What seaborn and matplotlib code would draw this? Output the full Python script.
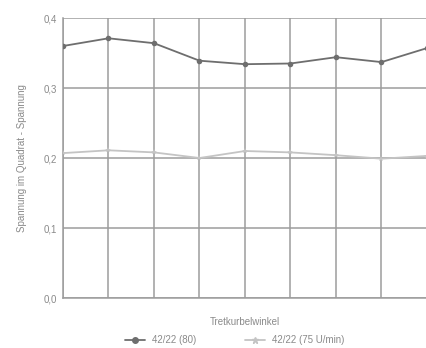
import numpy as np
import pandas as pd
import matplotlib
matplotlib.use("Agg")
import matplotlib.pyplot as plt
import seaborn as sns

# Daten
winkel = [0, 1, 2, 3, 4, 5, 6, 7, 8]
serie_80 = [0.360, 0.371, 0.364, 0.339, 0.334, 0.335, 0.344, 0.337, 0.357]
serie_75 = [0.207, 0.211, 0.208, 0.200, 0.210, 0.208, 0.204, 0.199, 0.203]
namen = ["42/22 (80)", "42/22 (75 U/min)"]
y_ticks = [0.0, 0.1, 0.2, 0.3, 0.4]
y_tick_labels = ["0,0", "0,1", "0,2", "0,3", "0,4"]

df = pd.DataFrame({
    "Tretkurbelwinkel": winkel * 2,
    "Spannung": serie_80 + serie_75,
    "Serie": [namen[0]] * len(winkel) + [namen[1]] * len(winkel),
})

sns.set_theme(style="white")
plt.rcParams["font.family"] = ["Liberation Sans", "DejaVu Sans"]

fig = plt.figure(figsize=(4.27, 3.48), dpi=100)
ax = fig.add_axes([63 / 427, 50 / 348, 364 / 427, 280 / 348])

farben = {namen[0]: "#6e6e6e", namen[1]: "#c4c4c4"}
sns.lineplot(data=df, x="Tretkurbelwinkel", y="Spannung", hue="Serie",
             style="Serie", markers={namen[0]: "o", namen[1]: "*"},
             dashes=False, palette=farben, markersize=4, linewidth=1.3,
             markeredgewidth=0, ax=ax, legend=False, zorder=3)

ax.set_xlim(0, 364 / 46)
ax.set_ylim(0, 0.4)
ax.set_xticks(winkel)
ax.set_xticklabels([])
ax.set_yticks(y_ticks)
ax.set_yticklabels(y_tick_labels)
ax.grid(True, color="#9c9c9c", linewidth=1.1)
ax.tick_params(axis="y", length=3, color="#9c9c9c", labelsize=7, labelcolor="#8a8a8a", pad=1)
ax.tick_params(axis="x", length=0)
for side in ["top", "right"]:
    ax.spines[side].set_visible(False)
for side in ["left", "bottom"]:
    ax.spines[side].set_color("#9c9c9c")
    ax.spines[side].set_linewidth(1.1)

ax.set_xlabel("Tretkurbelwinkel", fontsize=7, color="#8a8a8a", labelpad=10)
ax.set_ylabel("Spannung im Quadrat - Spannung", fontsize=7, color="#8a8a8a", labelpad=12)

# Legende unter der Grafik
from matplotlib.lines import Line2D
griffe = [
    Line2D([], [], color=farben[namen[0]], marker="o", markersize=4, linewidth=1.3),
    Line2D([], [], color=farben[namen[1]], marker="*", markersize=5, linewidth=1.3),
]
fig.legend(griffe, namen, loc="center", bbox_to_anchor=(235 / 427, 1 - 340 / 348),
           ncol=2, frameon=False, fontsize=7, labelcolor="#8a8a8a",
           handlelength=2, columnspacing=5)

fig.savefig("out.png", dpi=100, facecolor="white")
